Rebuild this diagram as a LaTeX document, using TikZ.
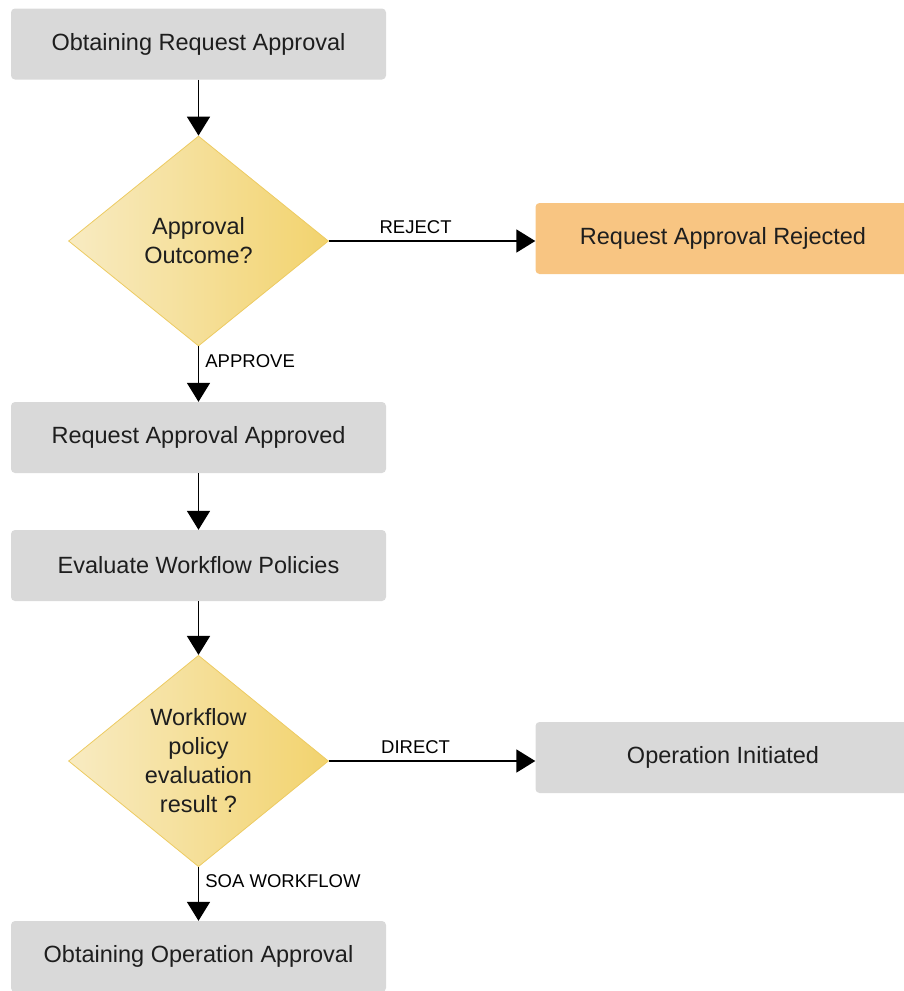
\documentclass[tikz,border=0pt]{standalone}
\usepackage{fontspec}
\setmainfont{Liberation Sans}
\usetikzlibrary{positioning,shapes.geometric,arrows.meta}

\definecolor{boxgrey}{HTML}{D9D9D9}
\definecolor{rejorange}{HTML}{F8C582}
\definecolor{dialight}{HTML}{F8EBC2}
\definecolor{diadark}{HTML}{F2D36E}
\definecolor{diaedge}{HTML}{EDCB62}
\definecolor{inkgrey}{HTML}{1E1E1E}

\tikzset{
  stepbox/.style={rectangle, rounded corners=4pt, fill=boxgrey,
    minimum width=375pt, minimum height=71pt, inner sep=0pt,
    text=inkgrey, font=\fontsize{23.5}{29}\selectfont},
  endbox/.style={stepbox, fill=rejorange},
  decision/.style={diamond, minimum width=260pt, minimum height=210pt,
    inner sep=0pt, left color=dialight, right color=diadark,
    draw=diaedge, line width=0.8pt, align=center, text=inkgrey,
    font=\fontsize{23.5}{29}\selectfont},
  flow/.style={-{Triangle[length=19pt,width=23pt]}, line width=1.8pt},
  flowlabel/.style={font=\fontsize{18.5}{22}\selectfont, inner sep=6pt}
}

\begin{document}
\begin{tikzpicture}[x=1pt, y=1pt]

  \useasboundingbox (0,0) rectangle (903,-991);

  % Main column
  \node[stepbox] (obtainreq) at (198.5,-44) {Obtaining Request Approval};
  \node[decision] (outcome) at (198.5,-241) {Approval\\Outcome?};
  \node[stepbox] (approved) at (198.5,-437.5) {Request Approval Approved};
  \node[stepbox] (evaluate) at (198.5,-565.5) {Evaluate Workflow Policies};
  \node[decision] (result) at (198.5,-761) {Workflow\\policy\\evaluation\\result ?};
  \node[stepbox] (obtainop) at (198.5,-956.5) {Obtaining Operation Approval};

  % Right column
  \node[endbox] (rejected) at (723,-238.5) {Request Approval Rejected};
  \node[stepbox] (initiated) at (723,-757.5) {Operation Initiated};

  %% Lines
  \draw[flow] (obtainreq) -- (outcome);
  \draw[flow] (outcome) -- node[flowlabel, right, pos=0.27] {APPROVE} (approved);
  \draw[flow] (outcome.east) -- node[flowlabel, above, pos=0.42] {REJECT} (outcome.east -| rejected.west);
  \draw[flow] (approved) -- (evaluate);
  \draw[flow] (evaluate) -- (result);
  \draw[flow] (result.east) -- node[flowlabel, above, pos=0.42] {DIRECT} (result.east -| initiated.west);
  \draw[flow] (result) -- node[flowlabel, right, pos=0.27] {SOA WORKFLOW} (obtainop);

\end{tikzpicture}
\end{document}
